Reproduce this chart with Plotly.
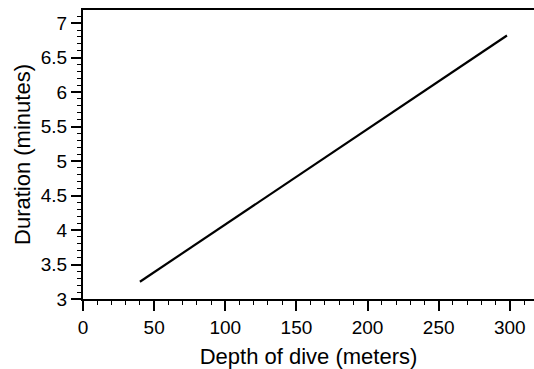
import plotly.graph_objects as go

depth_m = [40, 298]
duration_min = [3.25, 6.82]

x_ticks = [0, 50, 100, 150, 200, 250, 300]
y_ticks = [3, 3.5, 4, 4.5, 5, 5.5, 6, 6.5, 7]
y_tick_text = ["3", "3.5", "4", "4.5", "5", "5.5", "6", "6.5", "7"]

font_family = "Liberation Sans, Arial, sans-serif"

fig = go.Figure()
fig.add_trace(go.Scatter(x=depth_m, y=duration_min, mode="lines",
                         line=dict(color="black", width=2.2), showlegend=False))

fig.update_layout(
    width=534, height=369,
    margin=dict(l=83, r=0, t=10, b=70),
    paper_bgcolor="white", plot_bgcolor="white",
    font=dict(family=font_family, size=19, color="black"),
    xaxis=dict(
        range=[0, 317], tickvals=x_ticks, ticks="outside", ticklen=10, tickwidth=2,
        tickcolor="black", showline=True, linecolor="black", linewidth=2, mirror=True,
        showgrid=False, zeroline=False,
        minor=dict(dtick=10, tick0=0, ticks="outside", ticklen=4, tickwidth=1, tickcolor="black"),
        title=dict(text="Depth of dive (meters)", font=dict(size=22), standoff=12),
        tickfont=dict(size=19),
    ),
    yaxis=dict(
        range=[3, 7.19], tickvals=y_ticks, ticktext=y_tick_text, ticks="outside",
        ticklen=10, tickwidth=2, tickcolor="black", showline=True, linecolor="black",
        linewidth=2, showgrid=False, zeroline=False,
        minor=dict(dtick=0.1, tick0=3, ticks="outside", ticklen=4, tickwidth=1, tickcolor="black"),
        title=dict(text="Duration (minutes)", font=dict(size=22), standoff=4),
        tickfont=dict(size=19),
    ),
)

fig.write_html("out.html")
